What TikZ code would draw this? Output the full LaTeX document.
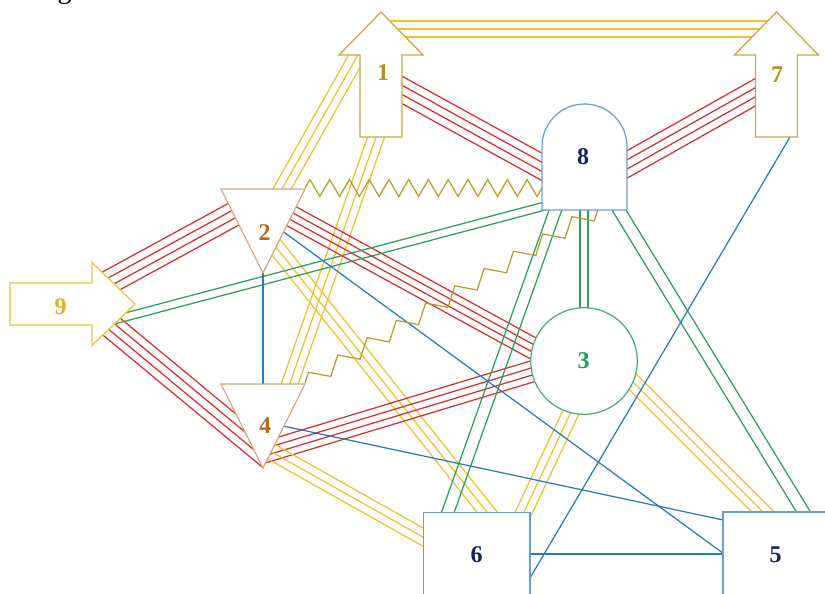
\documentclass[tikz,border=0pt]{standalone}
\usepackage{fontspec}
\setmainfont{Liberation Serif}
\usetikzlibrary{calc,decorations.pathmorphing}
\definecolor{cYel}{RGB}{238,192,50}
\definecolor{cRed}{RGB}{214,48,48}
\definecolor{cGrn}{RGB}{44,160,88}
\definecolor{cBlu}{RGB}{40,124,190}
\definecolor{cOlv}{RGB}{184,156,46}
\definecolor{cGold}{RGB}{200,168,64}
\definecolor{cGoldT}{RGB}{178,146,32}
\definecolor{cSun}{RGB}{238,196,52}
\definecolor{cSunT}{RGB}{228,178,30}
\definecolor{cTan}{RGB}{214,166,128}
\definecolor{cTanT}{RGB}{188,102,32}
\definecolor{cSky}{RGB}{104,160,210}
\definecolor{cNavy}{RGB}{22,36,92}
\definecolor{cMint}{RGB}{72,176,122}
\definecolor{cMintT}{RGB}{30,160,82}
\newcommand\plines[4]{\foreach \o in {#2}{\draw[#1] ($(#3)!\o pt!90:(#4)$) -- ($(#4)!\o pt!-90:(#3)$);}}
\begin{document}
\begin{tikzpicture}[x=1pt,y=-1pt,line width=1.25pt,
  ye/.style={draw=cYel}, re/.style={draw=cRed}, ge/.style={draw=cGrn}, be/.style={draw=cBlu},
  zz/.style={draw=cOlv, decorate},
  lbl/.style={inner sep=0pt, font=\fontsize{24}{24}\selectfont\bfseries}]
\useasboundingbox (0,0) rectangle (825,594);
% edge end points
\coordinate (a17) at (381,29);     \coordinate (b17) at (776.5,29);
\coordinate (a18) at (385,80.5);   \coordinate (b18) at (560,176.8);
\coordinate (a87) at (610,174);    \coordinate (b87) at (770,84);
\coordinate (a12) at (365.2,42);   \coordinate (b12) at (275.8,200);
\coordinate (a14) at (382,120);    \coordinate (b14) at (285.8,395);
\coordinate (a92) at (100,287);    \coordinate (b92) at (245,208);
\coordinate (a94) at (103,319.5);  \coordinate (b94) at (275,462);
\coordinate (a23) at (279.3,209.5);\coordinate (b23) at (548,356.5);
\coordinate (a43) at (250,456.6);  \coordinate (b43) at (548,366.6);
\coordinate (a98) at (105,322.4);  \coordinate (b98) at (560,202);
\coordinate (a83) at (584,200);    \coordinate (b83) at (584,320);
\coordinate (a86) at (559,200);    \coordinate (b86) at (444.4,522);
\coordinate (a85) at (612.9,200);  \coordinate (b85) at (809.6,522);
\coordinate (a26) at (270.4,240);  \coordinate (b26) at (497.3,525);
\coordinate (a46) at (255,442.6);  \coordinate (b46) at (440,546.6);
\coordinate (a36) at (579,395);    \coordinate (b36) at (517.9,525);
\coordinate (a35) at (620,369);    \coordinate (b35) at (775,524);
\coordinate (a24) at (263,273);    \coordinate (b24) at (263,384);
\coordinate (a25) at (270,222);    \coordinate (b25) at (740,565.6);
\coordinate (a45) at (270,423.2);  \coordinate (b45) at (740,523.6);
\coordinate (a65) at (500,554);    \coordinate (b65) at (750,554);
\coordinate (a67) at (530,578);    \coordinate (b67) at (790,137);
\coordinate (a28) at (305,188);    \coordinate (b28) at (542,188);
\coordinate (a48) at (305,383);    \coordinate (b48) at (598,210);
% yellow triples
\plines{ye}{-8,0,8}{a17}{b17}
\plines{ye}{-8,0,8}{a12}{b12}
\plines{ye}{-8,0,8}{a14}{b14}
\plines{ye}{-8,0,8}{a26}{b26}
\plines{ye}{-8,0,8}{a36}{b36}
\plines{ye}{-8,0,8}{a35}{b35}
% red quadruples
\plines{re}{-12,-4,4,12}{a18}{b18}
\plines{re}{-12,-4,4,12}{a87}{b87}
\plines{re}{-12,-4,4,12}{a92}{b92}
\plines{re}{-10.5,-3.5,3.5,10.5}{a23}{b23}
\begin{scope}
  \clip (95,132) -- (389,720) -- (-300,720) -- (-300,132) -- cycle;
  \plines{re}{-12,-4,4,12}{a94}{b94}
\end{scope}
\begin{scope}
  \clip (431,132) -- (137,720) -- (1100,720) -- (1100,132) -- cycle;
  \plines{re}{-10.5,-3.5,3.5,10.5}{a43}{b43}
  \plines{ye}{-8,0,8}{a46}{b46}
\end{scope}
% green doubles
\plines{ge}{-4,4}{a98}{b98}
\plines{ge}{-4,4}{a83}{b83}
\plines{ge}{-6,6}{a86}{b86}
\plines{ge}{-6,6}{a85}{b85}
% blue singles
\draw[be] (a24) -- (b24);
\draw[be] (a25) -- (b25);
\draw[be] (a45) -- (b45);
\draw[be] (a65) -- (b65);
\draw[be] (a67) -- (b67);
% zigzags
\draw[zz, decoration={zigzag, segment length=19.75pt, amplitude=8.5pt}] (a28) -- (b28);
\draw[zz, decoration={zigzag, segment length=34pt, amplitude=7.5pt}] (a48) -- (b48);
% shapes
\draw[draw=cGold, fill=white] (360,137) -- (360,55) -- (339,55) -- (381,12) -- (423,55) -- (402,55) -- (402,137) -- cycle;
\draw[draw=cGold, fill=white] (755.5,137) -- (755.5,55) -- (734.5,55) -- (776.5,12) -- (818.5,55) -- (797.5,55) -- (797.5,137) -- cycle;
\draw[draw=cSun, fill=white] (10,283) -- (92,283) -- (92,262.5) -- (135,304) -- (92,345.5) -- (92,325) -- (10,325) -- cycle;
\draw[draw=cTan, fill=white] (221,189) -- (305,189) -- (263,273) -- cycle;
\draw[draw=cTan, fill=white] (221,384) -- (305,384) -- (263,468) -- cycle;
\draw[draw=cSky, fill=white] (542,210) -- (542,146.5) arc[start angle=180, end angle=0, radius=42.5pt] -- (627,210) -- cycle;
\draw[draw=cMint, fill=white] (584,361) circle[radius=53.3pt];
\draw[draw=cSky, fill=white] (423.5,512.5) rectangle (530,602);
\draw[draw=cSky, fill=white] (723,512) rectangle (829,602);
% labels
\node[lbl, text=cGoldT] (n1) at (383,73) {1};
\node[lbl, text=cGoldT] (n7) at (777,75) {7};
\node[lbl, text=cNavy] (n8) at (583,157) {8};
\node[lbl, text=cTanT] (n2) at (264.5,232.7) {2};
\node[lbl, text=cTanT] (n4) at (265,425.5) {4};
\node[lbl, text=cSunT] (n9) at (60.5,306.7) {9};
\node[lbl, text=cMintT] (n3) at (583.5,360.5) {3};
\node[lbl, text=cNavy] (n6) at (476.7,555) {6};
\node[lbl, text=cNavy] (n5) at (775.5,555) {5};
\node[anchor=base, inner sep=0pt, font=\fontsize{28}{28}\selectfont] (ttl) at (64.5,-1) {g};
\end{tikzpicture}
\end{document}
